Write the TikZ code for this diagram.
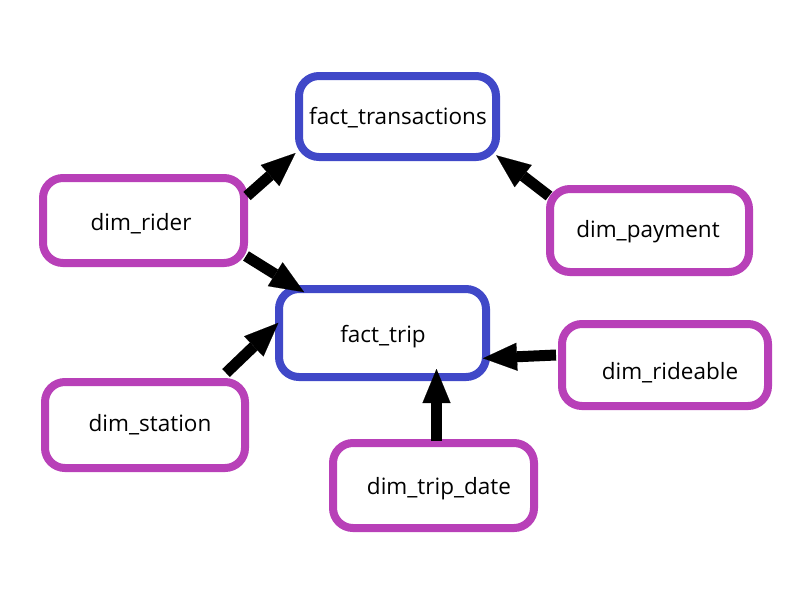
\documentclass[tikz,border=0pt]{standalone}
\usepackage{fontspec}
\setmainfont{Open Sans}
\usetikzlibrary{arrows.meta,calc}
\definecolor{factc}{RGB}{64,72,200}
\definecolor{dimc}{RGB}{184,64,184}
\begin{document}
\begin{tikzpicture}[x=1pt,y=-1pt,
  basebox/.style={draw, line width=8pt, rounded corners=20pt, fill=white, inner sep=0pt, rectangle},
  factbox/.style={basebox, draw=factc},
  dimbox/.style={basebox, draw=dimc},
  lbl/.style={font=\fontsize{22.5}{27}\selectfont, inner sep=0pt},
  arr/.style={line width=11pt, shorten >=-6pt, -{Triangle[length=34pt,width=28pt,line width=0.1pt]}}]
\useasboundingbox (0,0) rectangle (800,600);
\fill[white] (0,0) rectangle (800,600);
% boxes
\node[factbox, minimum width=197, minimum height=81] (trans) at (397.5,116.5) {};
\node[dimbox, minimum width=201, minimum height=85] (rider) at (143.5,220.5) {};
\node[dimbox, minimum width=199, minimum height=83] (pay) at (649.5,230.5) {};
\node[factbox, minimum width=207, minimum height=88] (trip) at (382.5,333) {};
\node[dimbox, minimum width=206, minimum height=82] (rideable) at (665,365) {};
\node[dimbox, minimum width=200, minimum height=86] (station) at (145,425) {};
\node[dimbox, minimum width=201, minimum height=85] (tripdate) at (433.5,485.5) {};
% labels
\node[lbl] (trans-t) at (398,118) {fact\_transactions};
\node[lbl] (rider-t) at (141,224) {dim\_rider};
\node[lbl] (pay-t) at (648,232) {dim\_payment};
\node[lbl] (trip-t) at (383,337) {fact\_trip};
\node[lbl] (rideable-t) at (670,373) {dim\_rideable};
\node[lbl] (station-t) at (150,425) {dim\_station};
\node[lbl] (tripdate-t) at (439,489) {dim\_trip\_date};
% arrows
\draw[arr] ($(rider.north east)+(-1,22)$) -- ($(trans.south west)+(-4,-4)$);
\draw[arr] ($(rider.south east)+(-2,-11)$) -- ($(trip.north west)+(24,4)$);
\draw[arr] ($(pay.north west)+(3,11)$) -- ($(trans.south east)+(1,-2)$);
\draw[arr] ($(station.north east)+(-23,-5)$) -- ($(trip.west)+(-1,-6)$);
\draw[arr] ($(rideable.west)+(-2,-10)$) -- ($(trip.east)+(-1,25)$);
\draw[arr] ($(tripdate.north)+(3,2)$) -- ($(trip.south)+(54,-6)$);
\end{tikzpicture}
\end{document}
